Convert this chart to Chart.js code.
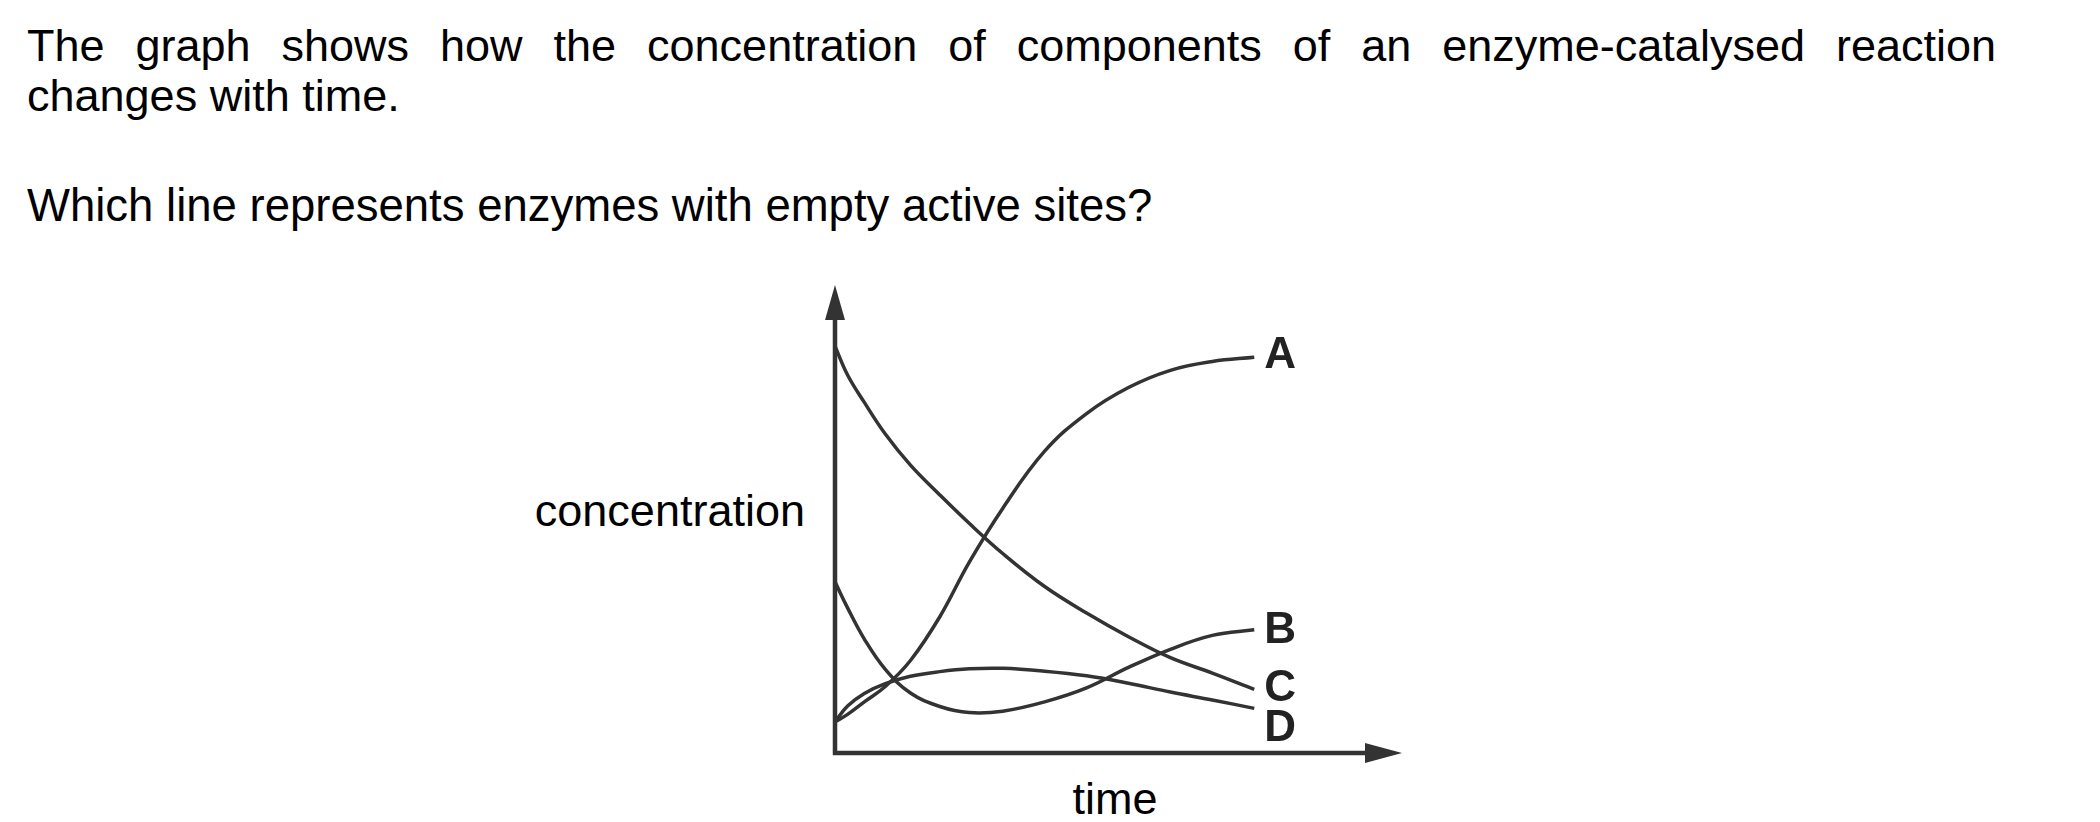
<!DOCTYPE html>
<html>
<head>
<meta charset="utf-8">
<script src="https://cdn.jsdelivr.net/npm/chart.js@4.4.0/dist/chart.umd.min.js"></script>
<style>
body{margin:0;background:#fff;width:2100px;height:822px;overflow:hidden;position:relative;font-family:"Liberation Sans",Arial,sans-serif;color:#000}
.txt{position:absolute;font-size:45px;line-height:50px;white-space:nowrap}
#l1{left:27px;top:21px;width:1969px;text-align:justify;text-align-last:justify;white-space:normal}
#l2{left:27px;top:71px}
#l3{left:27px;top:181px;font-size:45.5px}
#ylab{right:1295px;top:486px}
#xlab{left:1115px;top:774px;transform:translateX(-50%)}
#chart{position:absolute;left:0;top:0}
</style>
</head>
<body>
<div class="txt" id="l1">The graph shows how the concentration of components of an enzyme-catalysed reaction</div>
<div class="txt" id="l2">changes with time.</div>
<div class="txt" id="l3">Which line represents enzymes with empty active sites?</div>
<div class="txt" id="ylab">concentration</div>
<div class="txt" id="xlab">time</div>
<canvas id="chart" width="2100" height="822"></canvas>
<script>
// values (time 0..100 = start..end of curves, concentration 0..100 = axis height)
const times = [0, 3, 7, 12, 18, 25, 32, 40, 50, 60, 70, 80, 90, 100];
const lineA = [6.7, 8.3, 11.0, 14.3, 19.9, 29.3, 41.0, 52.6, 64.9, 73.0, 78.6, 82.3, 84.2, 85.1];
const lineB = [36.8, 31.2, 24.5, 18.0, 12.9, 10.0, 8.7, 9.0, 11.0, 14.0, 18.4, 22.3, 25.3, 26.5];
const lineC = [87.5, 81.3, 75.4, 68.6, 61.9, 55.5, 49.4, 42.9, 35.8, 30.1, 25.0, 20.5, 17.2, 13.7];
const lineD = [6.7, 10.1, 12.8, 14.9, 16.5, 17.5, 18.1, 18.2, 17.6, 16.6, 15.0, 13.1, 11.4, 9.6];
const labels = ['A', 'B', 'C', 'D'];
const labelShift = [-5, -3, -4, 17];

const ink = '#333';

function pts(vals){ return times.map((t,i)=>({x:t, y:vals[i]})); }

const axisArrows = {
    id:'axisArrows',
    afterDatasetsDraw(chart){
        const {ctx, chartArea:a} = chart;
        ctx.save();
        ctx.strokeStyle = ink; ctx.fillStyle = ink; ctx.lineWidth = 4.5;
        ctx.beginPath();
        ctx.moveTo(a.left, a.top + 30);
        ctx.lineTo(a.left, a.bottom);
        ctx.lineTo(a.right - 34, a.bottom);
        ctx.stroke();
        // y arrow
        ctx.beginPath();
        ctx.moveTo(a.left, a.top - 3);
        ctx.lineTo(a.left - 10, a.top + 32);
        ctx.lineTo(a.left + 10, a.top + 32);
        ctx.closePath(); ctx.fill();
        // x arrow
        ctx.beginPath();
        ctx.moveTo(a.right + 1, a.bottom);
        ctx.lineTo(a.right - 36, a.bottom - 10);
        ctx.lineTo(a.right - 36, a.bottom + 10);
        ctx.closePath(); ctx.fill();
        // line labels
        ctx.font = 'bold 44px "Liberation Sans", Arial, sans-serif';
        ctx.textBaseline = 'alphabetic';
        ctx.textAlign = 'left';
        ctx.fillStyle = '#222';
        chart.data.datasets.forEach((ds,i)=>{
            const el = chart.getDatasetMeta(i).data.at(-1);
            ctx.fillText(labels[i], el.x + 10, el.y + labelShift[i] + 16);
        });
        ctx.restore();
    }
};

const mk = vals => ({
    data: pts(vals), borderColor: ink, borderWidth: 3.5, pointRadius: 0,
    tension: 0.4, fill: false, clip: false, borderJoinStyle: 'round'
});

new Chart(document.getElementById('chart'), {
    type: 'line',
    data: { datasets: [mk(lineA), mk(lineB), mk(lineC), mk(lineD)] },
    options: {
        responsive: false, animation: false, devicePixelRatio: 1,
        layout: { padding: { left: 835, right: 699, top: 288, bottom: 69 } },
        plugins: { legend: {display:false}, tooltip: {enabled:false} },
        scales: {
            x: { type: 'linear', min: 0, max: 135, display: false },
            y: { min: 0, max: 100, display: false }
        }
    },
    plugins: [axisArrows]
});
</script>
</body>
</html>
